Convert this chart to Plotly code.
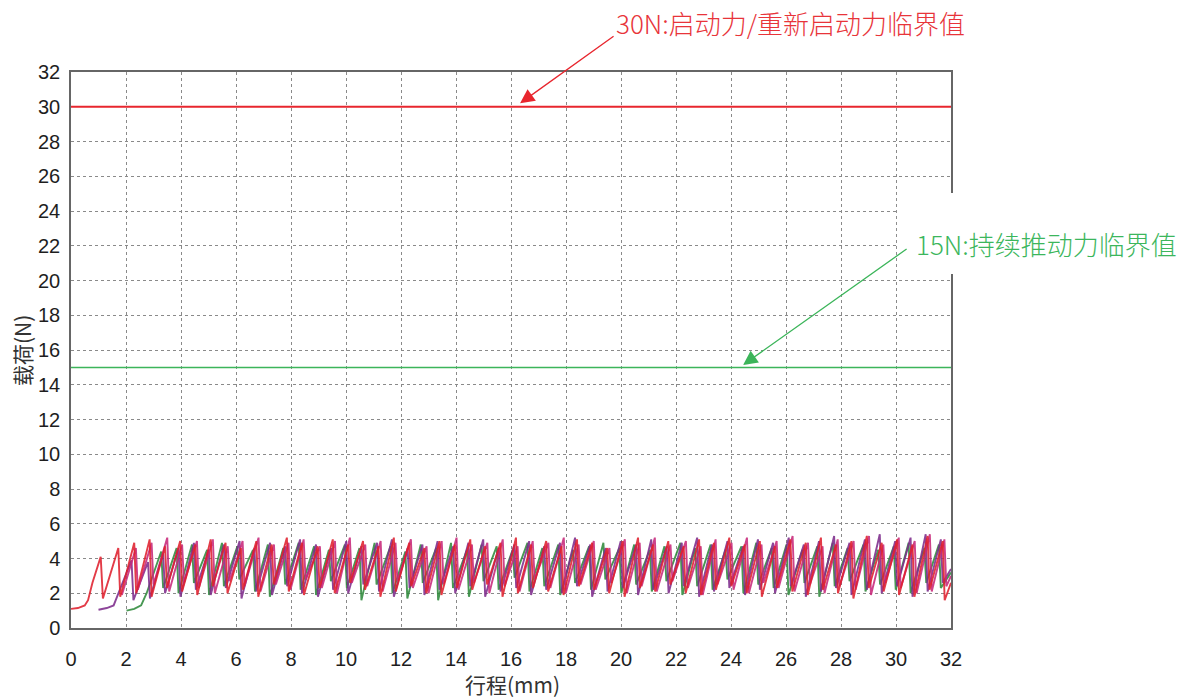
import plotly.graph_objects as go

# ---------------- data ----------------
x_ticks = list(range(0, 33, 2))
y_ticks = list(range(0, 33, 2))
x_title = "行程(mm)"
y_title = "载荷(N)"

thresholds = [30, 15]
threshold_labels = ["30N:启动力/重新启动力临界值", "15N:持续推动力临界值"]
label_points_x = [16.33, 24.44]   # where each arrow points (mm)
label_points_y = [30.2, 15.14]    # (N)

red_x = [0.00, 0.25, 0.50, 0.62, 0.78, 1.08, 1.16, 1.72, 1.79,
         2.30, 2.37, 2.86, 2.93, 3.42, 3.49, 3.97, 4.04, 4.52, 4.59,
         5.08, 5.15, 5.62, 5.69, 6.18, 6.25, 6.74, 6.81, 7.30, 7.37,
         7.85, 7.92, 8.40, 8.47, 8.97, 9.04, 9.52, 9.59, 10.08, 10.15,
         10.62, 10.69, 11.18, 11.25, 11.74, 11.81, 12.30, 12.37, 12.85, 12.92,
         13.40, 13.47, 13.96, 14.03, 14.52, 14.59, 15.06, 15.13, 15.62, 15.69,
         16.18, 16.25, 16.73, 16.80, 17.28, 17.35, 17.84, 17.91, 18.40, 18.47,
         18.95, 19.02, 19.50, 19.57, 20.06, 20.13, 20.62, 20.69, 21.17, 21.24,
         21.72, 21.79, 22.28, 22.35, 22.84, 22.91, 23.38, 23.45, 23.94, 24.01,
         24.50, 24.57, 25.05, 25.12, 25.60, 25.67, 26.16, 26.23, 26.72, 26.79,
         27.27, 27.34, 27.82, 27.89, 28.38, 28.45, 28.94, 29.01, 29.48, 29.55,
         30.04, 30.11, 30.60, 30.67, 31.15, 31.22, 31.70, 31.77, 32.00]
red_y = [1.1, 1.15, 1.3, 1.6, 2.6, 4.1, 1.7, 4.6, 1.8,
         4.9, 2.0, 5.1, 1.8, 4.7, 2.3, 5.0, 2.1, 4.8, 1.9,
         5.1, 2.4, 4.9, 2.0, 4.6, 2.2, 5.0, 1.8, 4.8, 2.5,
         5.2, 2.1, 4.9, 1.9, 4.7, 2.3, 5.1, 2.0, 4.8, 2.6,
         5.0, 2.2, 4.7, 1.8, 5.2, 2.1, 4.9, 2.4, 4.6, 2.0,
         5.0, 1.9, 4.8, 2.3, 5.1, 2.2, 4.7, 2.5, 4.9, 1.8,
         5.2, 2.0, 4.8, 2.3, 5.0, 2.1, 4.7, 1.9, 5.1, 2.4,
         4.9, 2.2, 4.6, 2.0, 5.0, 1.8, 5.2, 2.3, 4.8, 2.1,
         5.0, 2.5, 4.7, 2.0, 5.1, 1.9, 4.9, 2.2, 5.2, 2.4,
         4.8, 2.0, 5.0, 1.8, 4.7, 2.3, 5.1, 2.1, 4.9, 1.9,
         5.2, 2.2, 4.8, 2.0, 5.0, 1.7, 5.3, 2.3, 4.9, 2.1,
         5.1, 1.9, 4.8, 1.8, 5.3, 2.2, 5.0, 1.6, 2.6]

pink_x = [1.85,
          2.36, 2.43, 2.93, 3.00, 3.50, 3.57, 4.04, 4.11, 4.58, 4.65,
          5.16, 5.23, 5.70, 5.77, 6.24, 6.31, 6.82, 6.89, 7.38, 7.45,
          7.91, 7.98, 8.46, 8.53, 9.05, 9.12, 9.60, 9.67, 10.14, 10.21,
          10.70, 10.77, 11.26, 11.33, 11.80, 11.87, 12.36, 12.43, 12.93, 13.00,
          13.48, 13.55, 14.02, 14.09, 14.58, 14.65, 15.14, 15.21, 15.70, 15.77,
          16.24, 16.31, 16.79, 16.86, 17.36, 17.43, 17.92, 17.99, 18.46, 18.53,
          19.01, 19.08, 19.58, 19.65, 20.14, 20.21, 20.68, 20.75, 21.23, 21.30,
          21.80, 21.87, 22.36, 22.43, 22.90, 22.97, 23.44, 23.51, 24.02, 24.09,
          24.58, 24.65, 25.11, 25.18, 25.66, 25.73, 26.24, 26.31, 26.80, 26.87,
          27.33, 27.40, 27.88, 27.95, 28.46, 28.53, 29.02, 29.09, 29.54, 29.61,
          30.10, 30.17, 30.68, 30.75, 31.23, 31.30, 31.76, 31.83, 32.00]
pink_y = [1.9,
          4.6, 2.2, 4.9, 2.5, 5.2, 2.1, 4.8, 2.6, 5.0, 2.3,
          5.1, 2.0, 4.7, 2.7, 5.0, 2.4, 5.2, 2.1, 4.8, 2.5,
          4.9, 2.2, 5.1, 2.8, 4.7, 2.3, 5.0, 2.0, 5.2, 2.6,
          4.8, 2.4, 5.0, 2.1, 4.9, 2.7, 5.1, 2.3, 4.7, 2.0,
          5.0, 2.5, 5.2, 2.2, 4.8, 2.6, 4.9, 2.0, 5.1, 2.4,
          4.7, 2.1, 5.0, 2.8, 4.9, 2.3, 5.2, 2.0, 4.8, 2.5,
          5.0, 2.2, 4.6, 2.6, 5.1, 2.0, 4.9, 2.4, 5.2, 2.1,
          4.8, 2.7, 5.0, 2.3, 4.7, 1.9, 5.1, 2.5, 4.9, 2.2,
          5.2, 2.0, 4.8, 2.6, 5.0, 2.3, 5.3, 2.1, 4.9, 2.5,
          4.7, 2.0, 5.1, 2.4, 5.0, 2.2, 5.3, 1.9, 4.8, 2.6,
          5.2, 2.3, 5.0, 2.0, 5.4, 2.1, 5.1, 2.4, 3.0]

purple_x = [1.00, 1.30, 1.55, 1.68, 2.20, 2.27,
            2.80, 2.87, 3.35, 3.42, 3.91, 3.98, 4.47, 4.54, 5.01, 5.08,
            5.56, 5.63, 6.13, 6.20, 6.67, 6.74, 7.24, 7.31, 7.79, 7.86,
            8.33, 8.40, 8.91, 8.98, 9.46, 9.53, 10.01, 10.08, 10.56, 10.63,
            11.13, 11.20, 11.67, 11.74, 12.24, 12.31, 12.78, 12.85, 13.33, 13.40,
            13.90, 13.97, 14.45, 14.52, 14.99, 15.06, 15.55, 15.62, 16.12, 16.19,
            16.66, 16.73, 17.21, 17.28, 17.78, 17.85, 18.33, 18.40, 18.88, 18.95,
            19.44, 19.51, 19.99, 20.06, 20.55, 20.62, 21.10, 21.17, 21.66, 21.73,
            22.21, 22.28, 22.77, 22.84, 23.31, 23.38, 23.87, 23.94, 24.44, 24.51,
            24.98, 25.05, 25.53, 25.60, 26.10, 26.17, 26.65, 26.72, 27.20, 27.27,
            27.75, 27.82, 28.31, 28.38, 28.87, 28.94, 29.41, 29.48, 29.97, 30.04,
            30.53, 30.60, 31.08, 31.15, 31.63, 31.70, 32.00]
purple_y = [1.05, 1.15, 1.3, 1.8, 3.9, 1.6,
            3.8, 1.7, 4.3, 2.0, 4.6, 1.8, 4.9, 2.2, 4.5, 1.9,
            4.8, 2.3, 5.0, 1.7, 4.6, 2.1, 4.9, 1.9, 4.7, 2.4,
            5.1, 2.0, 4.8, 1.8, 4.6, 2.2, 5.0, 2.0, 4.7, 2.5,
            4.9, 2.1, 5.1, 1.8, 4.6, 2.3, 4.8, 1.9, 5.0, 2.2,
            4.7, 2.0, 4.9, 2.4, 5.1, 1.8, 4.6, 2.1, 4.8, 2.3,
            5.0, 1.9, 4.7, 2.2, 4.9, 2.0, 5.2, 2.4, 4.8, 1.8,
            4.6, 2.1, 5.0, 2.3, 4.8, 1.9, 5.1, 2.2, 4.7, 2.0,
            4.9, 2.4, 5.2, 1.8, 4.8, 2.1, 5.0, 2.3, 4.7, 1.9,
            5.1, 2.2, 4.9, 2.0, 5.2, 2.4, 4.8, 1.8, 5.0, 2.1,
            5.3, 2.3, 4.9, 1.9, 5.1, 2.2, 5.4, 2.0, 5.0, 2.4,
            5.2, 1.8, 5.4, 2.1, 5.1, 2.6, 3.4]

green_x = [2.02, 2.30, 2.55, 2.75,
           3.28, 3.35, 3.84, 3.91, 4.40, 4.47, 4.95, 5.02, 5.49, 5.56,
           6.05, 6.12, 6.62, 6.69, 7.16, 7.23, 7.72, 7.79, 8.28, 8.35,
           8.84, 8.91, 9.38, 9.45, 9.96, 10.03, 10.49, 10.56, 11.04, 11.11,
           11.62, 11.69, 12.16, 12.23, 12.72, 12.79, 13.28, 13.35, 13.82, 13.89,
           14.40, 14.47, 14.93, 15.00, 15.48, 15.55, 16.06, 16.13, 16.60, 16.67,
           17.14, 17.21, 17.72, 17.79, 18.26, 18.33, 18.84, 18.91, 19.36, 19.43,
           19.94, 20.01, 20.48, 20.55, 21.05, 21.12, 21.58, 21.65, 22.16, 22.23,
           22.70, 22.77, 23.26, 23.33, 23.80, 23.87, 24.38, 24.45, 24.92, 24.99,
           25.48, 25.55, 26.02, 26.09, 26.60, 26.67, 27.14, 27.21, 27.70, 27.77,
           28.24, 28.31, 28.82, 28.89, 29.35, 29.42, 29.92, 29.99, 30.46, 30.53,
           31.03, 31.10, 31.56, 31.63, 32.00]
green_y = [1.0, 1.1, 1.3, 2.0,
           4.4, 2.3, 4.6, 2.0, 4.8, 2.6, 4.5, 1.9, 4.9, 2.4,
           4.7, 2.8, 4.5, 2.1, 4.8, 1.8, 4.6, 2.5, 4.9, 2.2,
           4.7, 1.9, 4.5, 2.7, 4.8, 2.3, 4.6, 1.6, 4.9, 2.5,
           4.7, 2.0, 4.4, 1.7, 4.8, 2.6, 4.6, 1.6, 4.9, 2.3,
           4.5, 1.8, 4.8, 2.7, 4.7, 2.2, 4.5, 2.9, 4.9, 2.1,
           4.6, 2.4, 4.8, 1.9, 4.5, 2.6, 4.7, 2.2, 4.9, 2.8,
           4.6, 2.0, 4.8, 2.5, 4.5, 2.1, 4.7, 2.7, 4.9, 1.9,
           4.6, 2.4, 4.8, 2.2, 4.5, 2.8, 4.7, 2.0, 4.9, 2.5,
           4.6, 2.3, 4.8, 1.9, 4.5, 2.6, 4.7, 1.8, 4.9, 2.4,
           4.6, 2.7, 4.8, 2.1, 4.5, 2.5, 4.7, 2.2, 4.9, 2.0,
           4.6, 2.6, 4.8, 2.3, 3.2]

# ---------------- styles ----------------
TICK_FONT = dict(family="Liberation Sans, Arial, sans-serif", size=20, color="#1e1e1e")
CJK = "Noto Sans CJK SC, Noto Sans, sans-serif"
RED = "#e8262e"
GREEN_LINE = "#3cb55a"

fig = go.Figure()
series = [
    (green_x, green_y, "#2f8a3c"),
    (purple_x, purple_y, "#7e2c8c"),
    (pink_x, pink_y, "#c8287a"),
    (red_x, red_y, "#e0202e"),
]
for sx, sy, col in series:
    fig.add_trace(go.Scatter(x=sx, y=sy, mode="lines",
                             line=dict(color=col, width=1.9),
                             opacity=0.88, showlegend=False, hoverinfo="skip"))

fig.add_hline(y=thresholds[0], line=dict(color=RED, width=2))
fig.add_hline(y=thresholds[1], line=dict(color=GREEN_LINE, width=1.5))

# white patch behind the 15N label (covers the frame like in the source)
fig.add_shape(type="rect", xref="paper", yref="paper",
              x0=0.9386, x1=1.27, y0=0.6367, y1=0.7824,
              fillcolor="white", line=dict(width=0), layer="above")

# arrows
fig.add_annotation(x=label_points_x[0], y=label_points_y[0], xref="x", yref="y",
                   text="", showarrow=True, ax=95, ay=-68,
                   arrowhead=2, arrowsize=2.2, arrowwidth=1.3, arrowcolor=RED)
fig.add_annotation(x=label_points_x[1], y=label_points_y[1], xref="x", yref="y",
                   text="", showarrow=True, ax=165, ay=-117,
                   arrowhead=2, arrowsize=2.2, arrowwidth=1.3, arrowcolor=GREEN_LINE)
# labels
fig.add_annotation(x=0.818, y=1.0899, xref="paper", yref="paper",
                   text=threshold_labels[0], showarrow=False, borderpad=0,
                   xanchor="center", yanchor="middle",
                   font=dict(family=CJK, size=26, color="#e8343a", weight=300))
fig.add_annotation(x=1.108, y=0.6924, xref="paper", yref="paper",
                   text=threshold_labels[1], showarrow=False,
                   xanchor="center", yanchor="middle",
                   font=dict(family=CJK, size=26, color="#3cb65c", weight=300))
# axis titles
fig.add_annotation(x=0.502, y=-0.1007, xref="paper", yref="paper",
                   text=x_title, showarrow=False, xanchor="center", yanchor="middle",
                   font=dict(family=CJK, size=21, color="#333333"))
fig.add_annotation(x=-0.0557, y=0.5, xref="paper", yref="paper",
                   text=y_title, showarrow=False, textangle=-90,
                   xanchor="center", yanchor="middle",
                   font=dict(family=CJK, size=21, color="#333333"))

axis_common = dict(
    showgrid=True, gridcolor="#8a8a8a", gridwidth=1, griddash="dot",
    showline=True, linecolor="#666666", linewidth=1.5, mirror=True,
    zeroline=False, ticks="", tickfont=TICK_FONT,
)
fig.update_xaxes(range=[0, 32], tickvals=x_ticks, ticktext=[str(v) for v in x_ticks],
                 ticklabelstandoff=12, **axis_common)
fig.update_yaxes(range=[0, 32], tickvals=y_ticks, ticktext=[str(v) for v in y_ticks],
                 ticklabelstandoff=5, **axis_common)

fig.update_layout(
    width=1186, height=700,
    margin=dict(l=71, r=235, t=72, b=72),
    paper_bgcolor="white", plot_bgcolor="white",
)

# remove the default 8px page margin so the figure fills the window exactly
fig.write_html("out.html", config={"displayModeBar": False},
               post_script="document.body.style.margin='0px';")
